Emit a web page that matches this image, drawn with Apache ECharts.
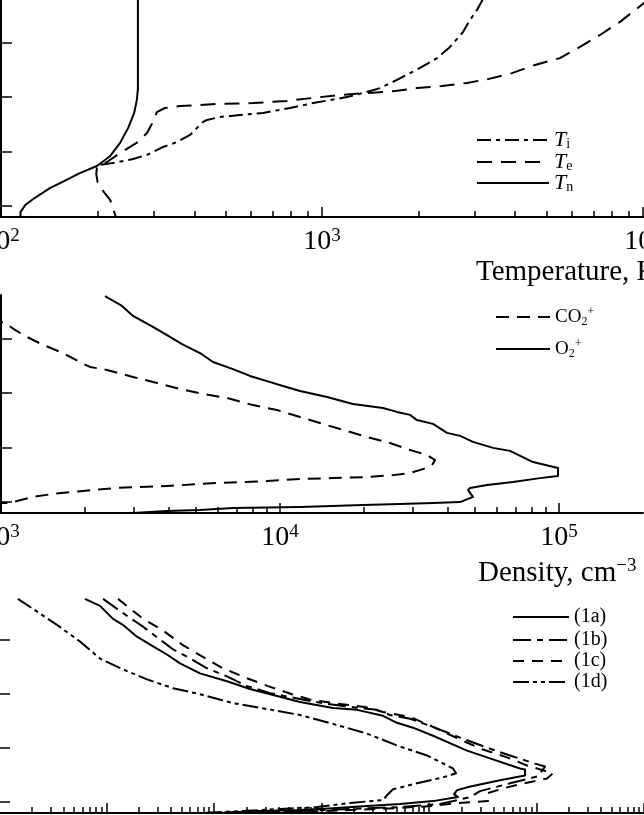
<!DOCTYPE html>
<html><head><meta charset="utf-8">
<script src="https://cdn.jsdelivr.net/npm/echarts@6/dist/echarts.min.js"></script>
<style>html,body{margin:0;padding:0;background:#fff;overflow:hidden}#c{width:644px;height:815px}</style>
</head><body><div id="c"></div>
<script>
// ---------- data (x = temperature K / density cm^-3, y = altitude) ----------
const altRange = [96, 176];
const altTicks = [100, 120, 140, 160];

const tempRange = [100, 12000];
const tempMajor = [100, 1000, 10000];
const dens1Range = [1000, 200000];
const dens1Major = [1000, 10000, 100000];
const dens2Range = [1, 1000000];
const dens2Major = [1, 10, 100, 1000, 10000, 100000, 1000000];

const tempTi = [[3174,176],[3150,175.6],[3040,172],[2891,168.3],[2750,163.9],[2505,158.4],[2282,154.3],[2020,150.7],[1712,146.3],[1516,143.3],[1342,141.5],[1196,140],[1059,138.9],[938,137.8],[795,136],[655,134.2],[555,133.4],[481,132.7],[438,131.6],[426,130.9],[388,126.1],[353,123.5],[320,121.7],[285,118.8],[258,117.3],[223,115.8],[203,115.1],[198,114.3]];
const tempTe = [[10440,176],[10070,174.5],[8480,167.6],[7350,162.8],[6270,158],[5510,154.3],[4610,151.8],[3910,148.8],[3290,146.6],[2830,145.2],[2365,144.1],[1977,143.3],[1688,142.2],[1138,140.8],[938,139.7],[778,138.6],[610,137.8],[471,137.5],[361,136.7],[324,136],[306,134.5],[295,130.1],[285,126.8],[267,123.5],[235,119.5],[214,116.2],[199,114],[198,111.8],[200,108.8],[209,105.2],[219,102.2],[223,99.3],[228,96]];
const tempTn = [[267,176],[267,143],[265,139],[260,134.2],[249,128.7],[235,123.2],[219,118.4],[199,114.7],[176,112.1],[160,109.6],[142,106.6],[126,102.6],[119,100.4],[115,97.8],[115,96]];

const densCO2 = [[928,168.5],[992,166.3],[1034,165.7],[1122,163.2],[1239,160.6],[1415,157.7],[1668,154.7],[1951,151],[2084,149.6],[2399,148.5],[2972,145.9],[3624,143.7],[4381,141.5],[5297,139.7],[6457,138.2],[8003,135.6],[9755,133.8],[11800,131.2],[13910,129],[16820,126.5],[20500,123.9],[24800,121.7],[29240,119.1],[33640,117.3],[35940,115.4],[35050,113.6],[32540,112.1],[29240,110.7],[25410,109.9],[20500,109.2],[15490,108.8],[11800,108.5],[8982,107.7],[5945,107],[3936,105.9],[2605,105.2],[1967,104.1],[1536,103],[1302,101.9],[1141,100.4],[1095,99.7],[992,99.7],[928,99.7]];
const densO2 = [[2359,175.6],[2715,172],[2972,168.3],[3505,164.3],[3936,161.3],[4455,158],[5168,154.7],[5753,151.4],[6784,148.8],[7806,146.3],[8982,144.4],[10250,142.6],[11800,140.8],[14740,138.6],[18260,136],[23390,134.5],[26270,133.1],[29240,132],[30970,130.1],[35350,128.7],[39680,125.4],[44190,124.3],[49180,122.1],[57990,119.9],[66740,118.8],[80700,114.7],[99170,112.5],[99170,109.6],[85490,108.8],[68410,107.4],[55200,106.3],[47970,105.2],[47190,104.4],[49180,101.9],[44190,100],[35350,99.7],[26920,99.3],[19840,98.9],[11800,98.2],[6784,97.8],[5168,97.1],[3936,96.7],[2972,96]];

const run1a = [[6.3,175.3],[8.7,172.7],[11.5,167.9],[14.2,165.7],[19.2,161.3],[27.1,157.7],[36.5,154.7],[48.3,151.4],[74.1,147.7],[132,144.8],[216,141.9],[386,139.3],[631,137.1],[1279,134.9],[2139,134.2],[3734,132],[5039,129.4],[7100,127.6],[10900,124.6],[22570,119.1],[34640,116.6],[70230,112.5],[78170,112.1],[78170,109.9],[45760,108.1],[22570,105.5],[18220,104.4],[17080,103],[18610,101.9],[10900,100.4],[5374,99.3],[2651,98.6],[1279,97.8],[631,97.1],[268,96.7],[114,96]];
const run1b = [[9.3,175.3],[15.9,168.7],[21.9,165],[31.5,160.2],[41.6,156.6],[62.4,152.9],[86.1,149.6],[132,146.6],[203,143],[332,140.4],[631,138.2],[1125,136.4],[1842,135.3],[3283,134.2],[4337,132.3],[6657,130.9],[10900,127.9],[19430,123.9],[34640,120.2],[56690,117.3],[96830,114.3],[120000,113.2],[103300,109.6],[56690,107],[29820,104.1],[24070,101.9],[12660,99.3],[5374,98.2],[1842,97.5],[631,96.7],[216,96.4],[92,96]];
const run1c = [[12.8,175.3],[21.9,167.9],[32.8,163.9],[50.4,158.4],[77.3,154],[121,149.6],[203,145.9],[318,143],[532,140],[816,137.8],[1486,136.4],[2539,135.3],[3734,133.4],[6657,131.6],[10900,127.9],[19430,123.2],[31790,119.5],[53160,116.6],[81560,113.6],[142400,110.7],[125200,108.8],[92790,107.7],[53160,105.5],[34640,103.3],[35390,100.4],[18220,99.7],[10900,98.6],[3501,97.5],[968,96.7],[268,96.4],[114,96]];
const run1d = [[1.5,175.3],[2.07,171.6],[3.46,165.7],[5.67,159.5],[8.7,153.2],[14.2,149.2],[23.8,145.5],[41.6,142.2],[74.1,140],[150,136.7],[311,134.5],[631,132.3],[1279,129],[2651,125.4],[5374,120.6],[9581,117.3],[16720,112.5],[17830,110.7],[13500,109.2],[7733,107],[4626,104.8],[4068,102.6],[3734,100.8],[1842,99.7],[908,98.2],[411,97.5],[175,96.7],[74,96]];

// ---------- styles ----------
const FONT = '"Liberation Serif", "Times New Roman", serif';
const BLACK = '#000';

function minorTicks(majors, max) {
  const out = [];
  majors.forEach(m => { for (let k = 2; k <= 9; k++) { if (m * k < max) out.push(m * k); } });
  return out;
}

const panels = [
  { grid: {left: 1, top: -1, width: 667.4, height: 218}, range: tempRange, majors: tempMajor },
  { grid: {left: 1, top: 295, width: 642, height: 218}, range: dens1Range, majors: dens1Major },
  { grid: {left: -1, top: 597, width: 645, height: 216}, range: dens2Range, majors: dens2Major }
];

const grids = [], xAxes = [], yAxes = [];
panels.forEach((p, i) => {
  grids.push(Object.assign({containLabel: false, outerBoundsMode: 'none'}, p.grid));
  xAxes.push({
    type: 'log', logBase: 10, gridIndex: i, min: p.range[0], max: p.range[1], position: 'bottom',
    axisLine: {show: true, onZero: false, lineStyle: {color: BLACK, width: 2}},
    axisTick: {show: true, inside: true, length: 10, customValues: p.majors, lineStyle: {color: BLACK, width: 1.5}},
    minorTick: {show: false}, splitLine: {show: false},
    axisLabel: {
      show: true, customValues: p.majors, margin: 10, color: BLACK,
      formatter: v => '{b|10}{s|' + Math.round(Math.log10(v)) + '}',
      rich: {
        b: {fontFamily: FONT, fontSize: 28, lineHeight: 30, color: BLACK},
        s: {fontFamily: FONT, fontSize: 19, lineHeight: 16, verticalAlign: 'top', color: BLACK}
      }
    }
  });
  xAxes.push({
    type: 'log', logBase: 10, gridIndex: i, min: p.range[0], max: p.range[1], position: 'top', offset: -p.grid.height,
    axisLine: {show: false}, axisLabel: {show: false}, splitLine: {show: false}, minorTick: {show: false},
    axisTick: {show: true, inside: false, length: 6, customValues: minorTicks(p.majors, p.range[1]), lineStyle: {color: BLACK, width: 1.5}}
  });
  yAxes.push({
    type: 'value', gridIndex: i, min: altRange[0], max: altRange[1],
    axisLine: {show: true, onZero: false, lineStyle: {color: BLACK, width: 2}},
    axisTick: {show: true, inside: true, length: 11, customValues: altTicks, lineStyle: {color: BLACK, width: 1.5}},
    axisLabel: {show: false}, splitLine: {show: false}
  });
});

function line(name, panel, data, dash) {
  return {
    type: 'line', name: name, xAxisIndex: panel * 2, yAxisIndex: panel, data: data,
    symbol: 'none', showSymbol: false, smooth: false, clip: true, animation: false,
    lineStyle: {color: BLACK, width: 2, type: dash || 'solid', cap: 'butt', join: 'round'},
    itemStyle: {color: BLACK}
  };
}

const series = [
  line('Ti', 0, tempTi, [14, 5, 4, 5]),
  line('Te', 0, tempTe, [15, 9]),
  line('Tn', 0, tempTn),
  line('CO2+', 1, densCO2, [13, 8]),
  line('O2+', 1, densO2),
  line('(1a)', 2, run1a),
  line('(1b)', 2, run1b, [18, 6, 6, 6]),
  line('(1c)', 2, run1c, [11, 8]),
  line('(1d)', 2, run1d, [16, 4, 4, 4, 4, 4])
];

const legendLabels = {
  'Ti': '{t|T}{sb|i}', 'Te': '{t|T}{sb|e}', 'Tn': '{t|T}{sb|n}',
  'CO2+': '{m|CO}{sb2|2}{sp2|+}', 'O2+': '{m|O}{sb2|2}{sp2|+}',
  '(1a)': '{p|(1a)}', '(1b)': '{p|(1b)}', '(1c)': '{p|(1c)}', '(1d)': '{p|(1d)}'
};
const legendRich = {
  t: {fontFamily: FONT, fontStyle: 'italic', fontSize: 22, lineHeight: 22, color: BLACK},
  sb: {fontFamily: FONT, fontSize: 14, lineHeight: 12, verticalAlign: 'bottom', color: BLACK},
  m: {fontFamily: FONT, fontSize: 19, lineHeight: 22, color: BLACK},
  sb2: {fontFamily: FONT, fontSize: 12, lineHeight: 10, verticalAlign: 'bottom', color: BLACK},
  sp2: {fontFamily: FONT, fontSize: 12, lineHeight: 10, verticalAlign: 'top', color: BLACK},
  p: {fontFamily: FONT, fontSize: 20, lineHeight: 22, color: BLACK}
};
const legendPlaces = [
  ['Ti', 476, 140, 72], ['Te', 476, 162, 72], ['Tn', 476, 183, 72],
  ['CO2+', 495, 317, 54], ['O2+', 495, 349, 54],
  ['(1a)', 512, 618, 56], ['(1b)', 512, 641, 56], ['(1c)', 512, 662, 56], ['(1d)', 512, 683, 56]
];
const legends = legendPlaces.map(([name, x, y, w]) => ({
  data: [name], left: x, top: y - 11, orient: 'horizontal', itemWidth: w, itemHeight: 22,
  itemGap: 0, padding: 0, selectedMode: false,
  itemStyle: {color: 'rgba(0,0,0,0)', borderColor: 'rgba(0,0,0,0)', borderWidth: 0, opacity: 0},
  formatter: n => legendLabels[n],
  textStyle: {fontFamily: FONT, color: BLACK, rich: legendRich}
}));

const titles = [
  {text: 'Temperature, K', left: 476, top: 256, padding: 0,
   textStyle: {fontFamily: FONT, fontSize: 29, lineHeight: 32, fontWeight: 'normal', color: BLACK}},
  {text: '{a|Density, cm}{s|\u22123}', left: 478, top: 557, padding: 0,
   textStyle: {fontFamily: FONT, fontWeight: 'normal', color: BLACK, rich: {
     a: {fontFamily: FONT, fontSize: 29, lineHeight: 32, color: BLACK},
     s: {fontFamily: FONT, fontSize: 19, lineHeight: 16, verticalAlign: 'top', color: BLACK}}}}
];

const chart = echarts.init(document.getElementById('c'), null, {renderer: 'canvas'});
chart.setOption({
  animation: false,
  backgroundColor: '#fff',
  title: titles,
  legend: legends,
  grid: grids,
  xAxis: xAxes,
  yAxis: yAxes,
  series: series
});
</script></body></html>
